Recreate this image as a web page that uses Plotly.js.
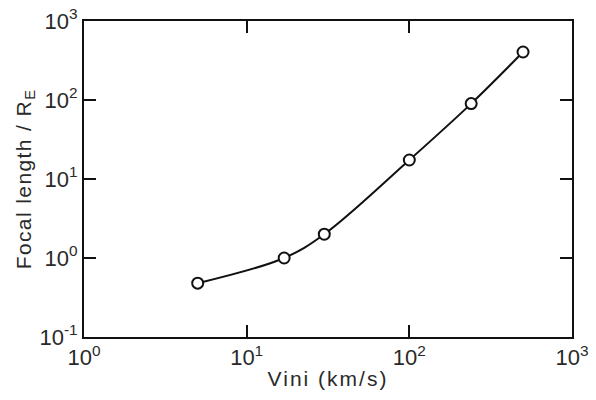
<!DOCTYPE html>
<html>
<head>
<meta charset="utf-8">
<script src="https://cdn.plot.ly/plotly-3.0.1.min.js"></script>
<style>
html,body{margin:0;padding:0;background:#fff;}
#chart{width:596px;height:400px;}
#chart .xtitle{letter-spacing:2px;}
#chart .ytitle{letter-spacing:1.4px;}
</style>
</head>
<body>
<div id="chart"></div>
<script>
// Data
const vini = [5, 17, 30, 100, 240, 500];             // km/s
const focalLength = [0.48, 1.0, 2.0, 17.4, 90, 405]; // in Earth radii
const xTickVals = [1, 10, 100, 1000];
const yTickVals = [0.1, 1, 10, 100, 1000];

const font = {family: 'Liberation Sans, Arial, sans-serif', color: '#2a2a2a'};

const trace = {
  x: vini,
  y: focalLength,
  type: 'scatter',
  mode: 'lines+markers',
  line: {color: '#111', width: 2, shape: 'spline', smoothing: 1},
  marker: {symbol: 'circle', size: 11, color: '#fff', line: {color: '#111', width: 2}},
  cliponaxis: false,
  hoverinfo: 'none'
};

const axisCommon = {
  type: 'log',
  showgrid: false,
  zeroline: false,
  showline: true,
  linecolor: '#111',
  linewidth: 2,
  mirror: 'ticks',
  ticks: 'inside',
  ticklen: 12,
  tickwidth: 2,
  tickcolor: '#111',
  tickmode: 'array',
  tickfont: Object.assign({size: 22}, font)
};

const layout = {
  width: 596,
  height: 400,
  margin: {l: 84, r: 24, t: 21, b: 63},
  paper_bgcolor: '#fff',
  plot_bgcolor: '#fff',
  showlegend: false,
  xaxis: Object.assign({}, axisCommon, {
    range: [0, 3],
    tickvals: xTickVals,
    ticktext: xTickVals.map(v => '10<sup>' + Math.round(Math.log10(v)) + '</sup>'),
    title: {text: 'Vini (km/s)', font: Object.assign({size: 21}, font), standoff: 2}
  }),
  yaxis: Object.assign({}, axisCommon, {
    range: [-1, 3],
    tickvals: yTickVals,
    ticktext: yTickVals.map(v => '10<sup>' + Math.round(Math.log10(v)) + '</sup>'),
    title: {text: 'Focal length / R<sub>E</sub>', font: Object.assign({size: 21}, font), standoff: 2}
  })
};

Plotly.newPlot('chart', [trace], layout, {staticPlot: true, displayModeBar: false});
</script>
</body>
</html>
